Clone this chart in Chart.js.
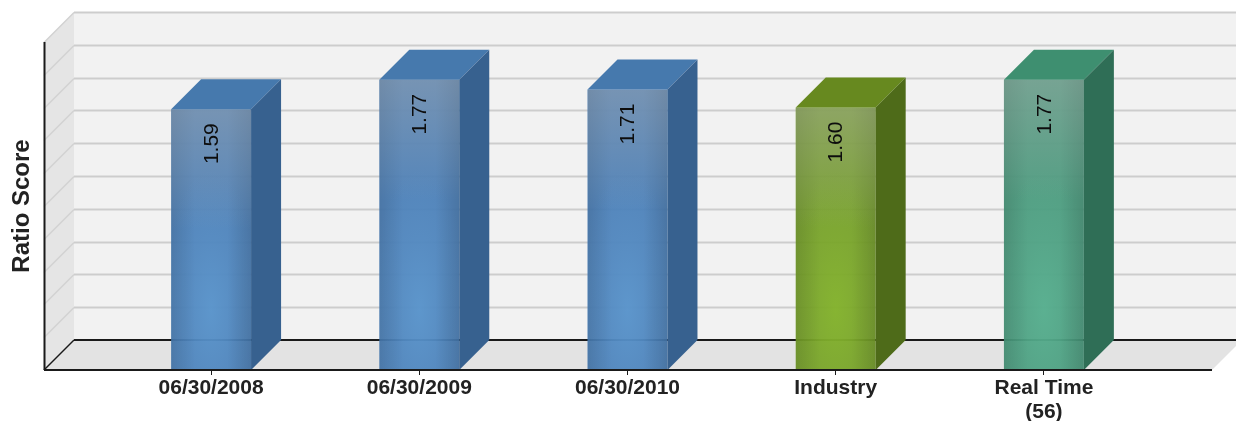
<!DOCTYPE html>
<html>
<head>
<meta charset="utf-8">
<script src="https://cdn.jsdelivr.net/npm/chart.js@4/dist/chart.umd.min.js"></script>
<style>
  html, body { margin: 0; padding: 0; background: #ffffff; }
  canvas { display: block; }
</style>
</head>
<body>
<canvas id="chart" width="1236" height="421"></canvas>
<script>
// ---- data ----
const categories = ["06/30/2008", "06/30/2009", "06/30/2010", "Industry", ["Real Time", "(56)"]];
const scores = [1.59, 1.77, 1.71, 1.60, 1.77];
const axisTitle = "Ratio Score";
const yMin = 0;
const yMax = 2;
const yStep = 0.2;

// ---- look ----
const barShades = [
  { front: "rgba(72,125,182,0.93)", light: [100, 162, 216], top: "#4679ad", side: "#37618f" },
  { front: "rgba(72,125,182,0.93)", light: [100, 162, 216], top: "#4679ad", side: "#37618f" },
  { front: "rgba(72,125,182,0.93)", light: [100, 162, 216], top: "#4679ad", side: "#37618f" },
  { front: "rgba(115,156,40,0.94)", light: [142, 192, 48], top: "#67891f", side: "#4e6b19" },
  { front: "rgba(72,153,124,0.93)", light: [96, 188, 154], top: "#3e8f70", side: "#2f6e56" }
];
const DEPTH = 30;          // 3D offset of the back plane (px right / px up)
const FRAME_LEFT = 63;     // frame extends this far left of the category band
const FRAME_RIGHT = 64;    // and this far right of it
const FONT = '"Liberation Sans", Arial, Helvetica, sans-serif';

function poly(ctx, pts, fill) {
  ctx.beginPath();
  ctx.moveTo(pts[0][0], pts[0][1]);
  for (let i = 1; i < pts.length; i++) ctx.lineTo(pts[i][0], pts[i][1]);
  ctx.closePath();
  ctx.fillStyle = fill;
  ctx.fill();
}
function line(ctx, x1, y1, x2, y2, color, w) {
  ctx.beginPath();
  ctx.moveTo(x1, y1);
  ctx.lineTo(x2, y2);
  ctx.strokeStyle = color;
  ctx.lineWidth = w;
  ctx.stroke();
}
const rgba = (c, a) => `rgba(${c[0]},${c[1]},${c[2]},${a})`;

// Walls, floor and grid of the 3D box, drawn behind the bars
const frame3d = {
  id: "frame3d",
  beforeDatasetsDraw(chart) {
    const { ctx, chartArea: a, scales: { y } } = chart;
    const d = DEPTH;
    const fl = a.left - FRAME_LEFT, fr = a.right + FRAME_RIGHT;
    const top = y.getPixelForValue(yMax), bot = y.getPixelForValue(yMin);
    ctx.save();
    // back wall
    poly(ctx, [[fl + d, top - d], [chart.width + 2, top - d], [chart.width + 2, bot - d], [fl + d, bot - d]], "#f2f2f2");
    // left wall
    poly(ctx, [[fl, top], [fl + d, top - d], [fl + d, bot - d], [fl, bot]], "#e5e5e5");
    // floor
    poly(ctx, [[fl, bot], [fl + d, bot - d], [fr + d, bot - d], [fr, bot]], "#e3e3e3");
    // grid lines on back and side walls
    for (let v = yMin + yStep; v <= yMax + 1e-9; v += yStep) {
      const py = Math.round(y.getPixelForValue(v)) + 0.5;
      line(ctx, fl + d, py - d, chart.width + 2, py - d, "#cdcdcd", 2);
      line(ctx, fl, py, fl + d, py - d, "#d2d2d2", 1.5);
    }
    // floor back edge and left floor edge
    line(ctx, fl + d, bot - d, chart.width + 2, bot - d, "#1a1a1a", 2);
    line(ctx, fl, bot, fl + d, bot - d, "#1a1a1a", 1.5);
    // front vertical axis
    line(ctx, fl + 0.5, top, fl + 0.5, bot, "#1a1a1a", 2);
    ctx.restore();
  },
  afterDatasetsDraw(chart) {
    const { ctx, chartArea: a, scales: { y } } = chart;
    const d = DEPTH;
    const meta = chart.getDatasetMeta(0);
    ctx.save();
    meta.data.forEach((bar, i) => {
      const shade = barShades[i];
      const w = bar.width;
      const l = bar.x - w / 2, r = bar.x + w / 2, t = bar.y, b = bar.base;
      const h = b - t;
      // front face shading
      ctx.save();
      ctx.beginPath();
      ctx.rect(l, t, w, h);
      ctx.clip();
      // soft highlight low in the middle
      ctx.save();
      ctx.translate(bar.x, b - 60);
      ctx.scale(1, 2.8);
      const rg = ctx.createRadialGradient(0, 0, 0, 0, 0, 50);
      rg.addColorStop(0, rgba(shade.light, 0.6));
      rg.addColorStop(0.5, rgba(shade.light, 0.25));
      rg.addColorStop(1, rgba(shade.light, 0));
      ctx.fillStyle = rg;
      ctx.fillRect(-w, -h, 2 * w, 2 * h);
      ctx.restore();
      // darker side edges
      const hg = ctx.createLinearGradient(l, 0, r, 0);
      hg.addColorStop(0, "rgba(0,0,0,0.10)");
      hg.addColorStop(0.3, "rgba(0,0,0,0)");
      hg.addColorStop(0.7, "rgba(0,0,0,0)");
      hg.addColorStop(1, "rgba(0,0,0,0.12)");
      ctx.fillStyle = hg;
      ctx.fillRect(l, t, w, h);
      // greyish haze at the top
      const vg = ctx.createLinearGradient(0, t, 0, t + 120);
      vg.addColorStop(0, "rgba(170,170,170,0.40)");
      vg.addColorStop(1, "rgba(170,170,170,0)");
      ctx.fillStyle = vg;
      ctx.fillRect(l, t, w, h);
      ctx.restore();
      // top face
      poly(ctx, [[l, t], [l + d, t - d], [r + d, t - d], [r, t]], shade.top);
      // side face
      poly(ctx, [[r, t], [r + d, t - d], [r + d, b - d], [r, b]], shade.side);
      // value label, rotated, near the top of the bar
      ctx.save();
      ctx.translate(bar.x, t + 14);
      ctx.rotate(-Math.PI / 2);
      ctx.font = "21px " + FONT;
      ctx.fillStyle = "#0d0d0d";
      ctx.textAlign = "right";
      ctx.textBaseline = "middle";
      ctx.fillText(scores[i].toFixed(2), 0, 1);
      ctx.restore();
    });
    // front floor edge (category axis line)
    const bot = Math.round(y.getPixelForValue(yMin));
    line(ctx, a.left - FRAME_LEFT, bot, a.right + FRAME_RIGHT, bot, "#1a1a1a", 2);
    ctx.restore();
  }
};

new Chart(document.getElementById("chart"), {
  type: "bar",
  data: {
    labels: categories,
    datasets: [{
      data: scores,
      backgroundColor: barShades.map(s => s.front),
      borderWidth: 0,
      barPercentage: 0.384,
      categoryPercentage: 1
    }]
  },
  options: {
    responsive: false,
    animation: false,
    events: [],
    layout: { padding: { top: 42, right: 88, bottom: 0, left: 0 } },
    plugins: { legend: { display: false }, tooltip: { enabled: false } },
    scales: {
      x: {
        offset: true,
        grid: { display: true, offset: false, drawOnChartArea: false, drawTicks: true, tickLength: 5, color: "#1a1a1a", lineWidth: 1 },
        border: { display: false },
        ticks: { padding: 1, color: "#222222", font: { family: FONT, size: 21, weight: "bold", lineHeight: 1.14 }, maxRotation: 0, autoSkip: false },
        afterFit: s => { s.height = 51; }
      },
      y: {
        min: yMin,
        max: yMax,
        grid: { display: false },
        border: { display: false },
        ticks: { display: false, stepSize: yStep },
        title: { display: true, text: axisTitle, color: "#222222", padding: { top: 8, bottom: 0 }, font: { family: FONT, size: 24, weight: "bold", lineHeight: 1.2 } },
        afterFit: s => { s.width = 107; }
      }
    }
  },
  plugins: [frame3d]
});
</script>
</body>
</html>
